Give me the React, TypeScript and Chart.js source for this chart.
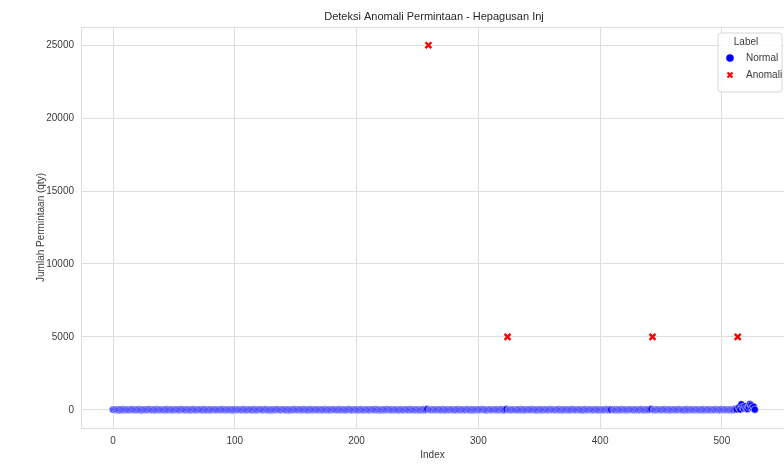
import React, { useEffect, useRef } from "react";
import { Chart, registerables } from "chart.js";

Chart.register(...registerables);

// Demand quantity per index (0..527)
const qty: number[] = [
  12, 5, 20, 8, 3, 15, 10, 6, 25, 4, 9, 18, 7, 2, 14, 11, 30, 5, 8, 16, 3, 22, 9, 6,
  10, 4, 13, 19, 7, 5, 28, 12, 3, 8, 15, 6, 21, 9, 4, 11, 17, 2, 14, 7, 24, 10, 5, 9,
  16, 3, 8, 12, 20, 6, 11, 4, 27, 9, 13, 5, 7, 18, 10, 3, 15, 8, 22, 6, 12, 4, 9, 19,
  5, 14, 7, 26, 10, 3, 11, 16, 8, 4, 20, 9, 13, 6, 2, 17, 11, 7, 23, 5, 9, 14, 3, 12,
  18, 6, 10, 4, 29, 8, 13, 5, 16, 11, 3, 21, 7, 9, 15, 4, 12, 19, 6, 10, 25, 8, 3, 14,
  9, 17, 5, 11, 7, 22, 13, 4, 8, 16, 10, 3, 19, 6, 12, 27, 9, 5, 14, 8, 20, 11, 4, 7,
  15, 10, 3, 18, 6, 24, 9, 12, 5, 8, 16, 11, 4, 21, 7, 13, 3, 10, 28, 6, 9, 15, 5, 12,
  8, 19, 4, 11, 14, 7, 23, 9, 3, 16, 10, 6, 12, 20, 5, 9, 13, 4, 26, 8, 11, 17, 6, 3,
  14, 9, 22, 5, 10, 7, 18, 12, 4, 15, 8, 11, 25, 6, 3, 13, 9, 19, 7, 10, 5, 16, 12, 4,
  21, 8, 11, 6, 14, 3, 17, 10, 9, 24, 5, 12, 7, 15, 4, 11, 20, 8, 13, 6, 3, 18, 9, 10,
  5, 16, 12, 7, 27, 4, 9, 14, 11, 6, 19, 8, 3, 13, 10, 22, 7, 15, 45, 25000, 12, 6, 9, 17,
  4, 11, 20, 8, 13, 5, 10, 24, 7, 3, 15, 9, 12, 6, 18, 11, 4, 14, 8, 26, 10, 5, 13, 7,
  16, 9, 3, 21, 12, 6, 10, 15, 4, 8, 19, 11, 7, 13, 5, 23, 9, 14, 6, 10, 3, 17, 12, 8,
  20, 5, 11, 9, 15, 4, 13, 28, 7, 10, 6, 40, 5000, 12, 8, 14, 5, 19, 9, 11, 3, 16, 7, 22,
  10, 6, 13, 4, 18, 9, 12, 5, 25, 8, 11, 15, 3, 10, 20, 7, 14, 6, 9, 17, 4, 12, 8, 21,
  11, 5, 16, 9, 3, 13, 24, 7, 10, 14, 6, 19, 8, 12, 4, 15, 10, 27, 5, 9, 13, 7, 18, 11,
  6, 14, 3, 10, 22, 8, 12, 5, 16, 9, 11, 4, 20, 7, 13, 10, 6, 17, 3, 15, 9, 25, 11, 8,
  12, 5, 30, 14, 7, 19, 10, 4, 13, 9, 23, 6, 11, 16, 8, 3, 12, 20, 9, 14, 5, 10, 18, 7,
  13, 4, 26, 11, 8, 15, 6, 12, 9, 21, 38, 5000, 10, 7, 14, 5, 17, 11, 3, 13, 9, 24, 6, 12,
  8, 16, 10, 4, 19, 12, 7, 14, 5, 22, 9, 11, 3, 15, 8, 28, 10, 6, 13, 17, 4, 11, 9, 20,
  7, 12, 5, 15, 10, 24, 6, 13, 8, 18, 4, 11, 9, 16, 3, 21, 12, 7, 14, 10, 27, 5, 9, 13,
  6, 17, 11, 8, 20, 4, 12, 60, 30, 5000, 150, 20, 380, 180, 90, 240, 110, 60, 200, 390, 320, 140, 210, 15,
];

// Indices flagged as anomalies
const anomalyIdx: number[] = [259, 324, 410, 443, 513];

const xTicks: number[] = [0, 100, 200, 300, 400, 500];
const yTicks: number[] = [0, 5000, 10000, 15000, 20000, 25000];

const chartTitle = "Deteksi Anomali Permintaan - Hepagusan Inj";
const xLabel = "Index";
const yLabel = "Jumlah Permintaan (qty)";
const legendTitle = "Label";
const seriesNames = ["Normal", "Anomali"];

const FONT = '"Liberation Sans", Arial, sans-serif';
const TEXT = "#3a3a3a";
const GRID = "#dedede";
const W = 784;
const H = 472;

export default function App() {
  const ref = useRef<HTMLCanvasElement | null>(null);

  useEffect(() => {
    if (!ref.current) return;
    const normal = qty
      .map((v, i) => ({ x: i, y: v }))
      .filter((p) => !anomalyIdx.includes(p.x));
    const anomalies = anomalyIdx.map((i) => ({ x: i, y: qty[i] }));

    const decor = {
      id: "decor",
      beforeDatasetsDraw(chart: any) {
        const { ctx, chartArea } = chart;
        ctx.save();
        ctx.strokeStyle = GRID;
        ctx.lineWidth = 1;
        ctx.beginPath();
        ctx.moveTo(chartArea.left, chartArea.top + 0.5);
        ctx.lineTo(chartArea.right, chartArea.top + 0.5);
        ctx.stroke();
        ctx.restore();
      },
      afterDraw(chart: any) {
        const { ctx } = chart;
        ctx.save();
        // title
        ctx.fillStyle = "#262626";
        ctx.font = `11px ${FONT}`;
        ctx.textAlign = "center";
        ctx.textBaseline = "middle";
        ctx.fillText(chartTitle, 434, 17);
        // legend box
        const bx = 718, by = 33, bw = 64, bh = 59, r = 3;
        ctx.beginPath();
        ctx.moveTo(bx + r, by);
        ctx.lineTo(bx + bw - r, by);
        ctx.quadraticCurveTo(bx + bw, by, bx + bw, by + r);
        ctx.lineTo(bx + bw, by + bh - r);
        ctx.quadraticCurveTo(bx + bw, by + bh, bx + bw - r, by + bh);
        ctx.lineTo(bx + r, by + bh);
        ctx.quadraticCurveTo(bx, by + bh, bx, by + bh - r);
        ctx.lineTo(bx, by + r);
        ctx.quadraticCurveTo(bx, by, bx + r, by);
        ctx.closePath();
        ctx.fillStyle = "rgba(255,255,255,0.85)";
        ctx.fill();
        ctx.strokeStyle = "#d8d8d8";
        ctx.lineWidth = 1;
        ctx.stroke();
        ctx.fillStyle = TEXT;
        ctx.font = `10px ${FONT}`;
        ctx.textAlign = "center";
        ctx.fillText(legendTitle, 746, 42);
        ctx.textAlign = "left";
        ctx.fillText(seriesNames[0], 746, 58);
        ctx.fillText(seriesNames[1], 746, 75);
        // markers
        ctx.beginPath();
        ctx.arc(730, 58, 3.8, 0, Math.PI * 2);
        ctx.fillStyle = "#0000ff";
        ctx.fill();
        ctx.strokeStyle = "#ff0000";
        ctx.lineWidth = 2.2;
        ctx.beginPath();
        ctx.moveTo(727.5, 72.5);
        ctx.lineTo(732.5, 77.5);
        ctx.moveTo(732.5, 72.5);
        ctx.lineTo(727.5, 77.5);
        ctx.stroke();
        ctx.restore();
      },
    };

    const tickFont = { family: FONT, size: 10 };
    const chart = new Chart(ref.current, {
      type: "scatter",
      data: {
        datasets: [
          {
            label: seriesNames[0],
            data: normal,
            order: 0,
            pointStyle: "circle",
            pointRadius: 3.6,
            backgroundColor: "#0000ff",
            borderColor: "#ffffff",
            borderWidth: 0.5,
          },
          {
            label: seriesNames[1],
            data: anomalies,
            order: 1,
            pointStyle: "crossRot",
            pointRadius: 4.2,
            backgroundColor: "#ff0000",
            borderColor: "#ff0000",
            borderWidth: 2.4,
          },
        ],
      },
      options: {
        animation: false,
        responsive: false,
        events: [],
        layout: { autoPadding: false, padding: { top: 27, right: 0, bottom: 0, left: 0 } },
        plugins: {
          legend: { display: false },
          title: { display: false },
          tooltip: { enabled: false },
        },
        scales: {
          x: {
            type: "linear",
            position: "bottom",
            min: -26.3,
            max: 551,
            afterBuildTicks: (s: any) => {
              s.ticks = xTicks.map((v) => ({ value: v }));
            },
            afterFit: (s: any) => {
              s.height = 44;
              s.paddingLeft = 0;
              s.paddingRight = 0;
            },
            ticks: {
              font: tickFont,
              color: TEXT,
              padding: 7,
              maxRotation: 0,
              autoSkip: false,
              callback: (v: any) => String(v),
            },
            grid: { color: GRID, lineWidth: 1, drawTicks: false },
            border: { display: true, color: GRID, width: 1 },
            title: {
              display: true,
              text: xLabel,
              font: { family: FONT, size: 10 },
              color: TEXT,
              padding: { top: 0, bottom: 11 },
            },
          },
          y: {
            type: "linear",
            min: -1250,
            max: 26250,
            afterBuildTicks: (s: any) => {
              s.ticks = yTicks.map((v) => ({ value: v }));
            },
            afterFit: (s: any) => {
              s.width = 81;
              s.paddingTop = 0;
              s.paddingBottom = 0;
            },
            ticks: {
              font: tickFont,
              color: TEXT,
              padding: 7,
              autoSkip: false,
              callback: (v: any) => String(v),
            },
            grid: { color: GRID, lineWidth: 1, drawTicks: false },
            border: { display: true, color: GRID, width: 1 },
            title: {
              display: true,
              text: yLabel,
              font: { family: FONT, size: 10 },
              color: TEXT,
              padding: { top: 35, bottom: 0 },
            },
          },
        },
      },
      plugins: [decor],
    } as any);
    return () => chart.destroy();
  }, []);

  return (
    <div style={{ position: "fixed", left: 0, top: 0, width: W, height: H, background: "#ffffff" }}>
      <canvas ref={ref} width={W} height={H} style={{ display: "block", width: W, height: H }} />
    </div>
  );
}
